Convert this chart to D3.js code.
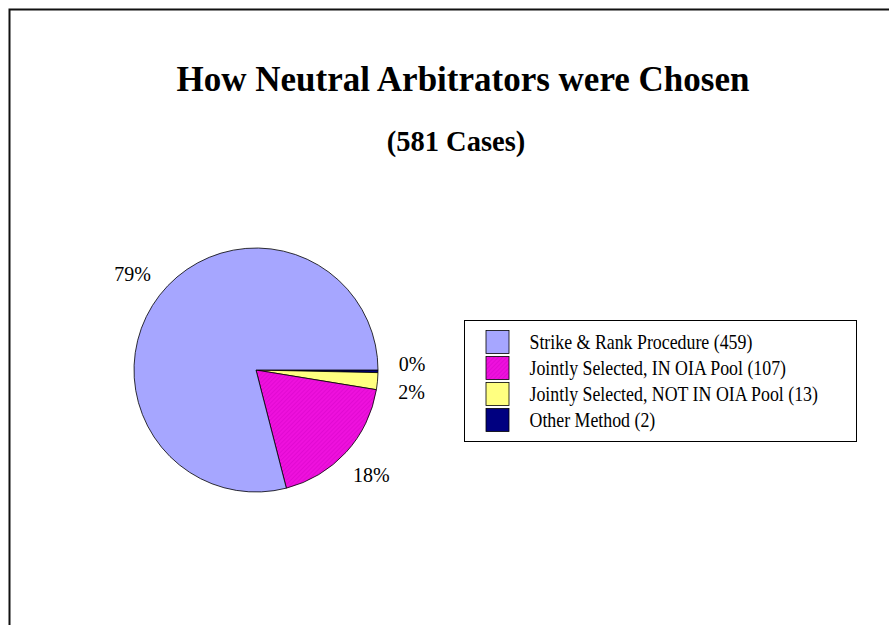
<!DOCTYPE html>
<html>
<head>
<meta charset="utf-8">
<script src="https://cdn.jsdelivr.net/npm/d3@7"></script>
<style>
  html, body { margin: 0; padding: 0; background: #fff; }
  svg { display: block; }
  text { font-family: "Liberation Serif", "Times New Roman", serif; fill: #000; }
</style>
</head>
<body>
<svg id="chart" width="889" height="625"></svg>
<script>
// ---- data ----
const categories = [
  "Strike & Rank Procedure",
  "Jointly Selected, IN OIA Pool",
  "Jointly Selected, NOT IN OIA Pool",
  "Other Method"
];
const counts = [459, 107, 13, 2];
const colors = ["#A6A6FF", "#EE11DD", "#FFFF80", "#000080"];
const titleText = "How Neutral Arbitrators were Chosen";
const subtitleText = "(581 Cases)";

const total = d3.sum(counts);
const data = categories.map((c, i) => ({ name: c, value: counts[i], color: colors[i], idx: i }));

const svg = d3.select("#chart");

// hatch pattern for magenta slice
const defs = svg.append("defs");
const pat = defs.append("pattern")
  .attr("id", "hatch")
  .attr("patternUnits", "userSpaceOnUse")
  .attr("width", 3).attr("height", 3)
  .attr("patternTransform", "rotate(45)");
pat.append("rect").attr("width", 3).attr("height", 3).attr("fill", "#EE11DD");
pat.append("line").attr("x1", 0).attr("y1", 0).attr("x2", 0).attr("y2", 3)
  .attr("stroke", "#D400C8").attr("stroke-width", 1);

// frame
svg.append("path")
  .attr("d", "M9.5,625 L9.5,9.5 L889,9.5")
  .attr("fill", "none").attr("stroke", "#111").attr("stroke-width", 2);

// titles
svg.append("text")
  .attr("x", 463).attr("y", 91)
  .attr("text-anchor", "middle")
  .style("font-size", "35px").style("font-weight", "bold")
  .text(titleText);
svg.append("text")
  .attr("x", 456).attr("y", 151)
  .attr("text-anchor", "middle")
  .style("font-size", "28.5px").style("font-weight", "bold")
  .text(subtitleText);

// pie
const cx = 256, cy = 370, r = 122;
const pieOrder = data.slice().reverse(); // clockwise from 3 o'clock: Other, NOT IN, IN, Strike
const pie = d3.pie().sort(null).value(d => d.value)
  .startAngle(Math.PI / 2).endAngle(Math.PI / 2 + 2 * Math.PI);
const arcs = pie(pieOrder);
const arc = d3.arc().innerRadius(0).outerRadius(r);

const g = svg.append("g").attr("transform", `translate(${cx},${cy})`);
g.selectAll("path.slice").data(arcs).enter().append("path")
  .attr("class", "slice")
  .attr("d", arc)
  .attr("fill", d => d.data.idx === 1 ? "url(#hatch)" : d.data.color)
  .attr("stroke", "#000").attr("stroke-width", 0.8);

// labels: positioned on an outer arc, with simple overlap spreading
const labelArc = d3.arc().innerRadius(r * 1.28).outerRadius(r * 1.28);
const labels = arcs.map(d => {
  const [x, y] = labelArc.centroid(d);
  return { x, y, text: d3.format(".0%")(d.data.value / total) };
});
for (let i = 1; i < labels.length; i++) {
  const p = labels[i - 1], q = labels[i];
  if (Math.abs(p.x - q.x) < 40 && Math.abs(p.y - q.y) < 24) {
    const m = (p.y + q.y) / 2;
    p.y = m - 14; q.y = m + 14;
  }
}
g.selectAll("text.lbl").data(labels).enter().append("text")
  .attr("class", "lbl")
  .attr("x", d => d.x).attr("y", d => d.y)
  .attr("text-anchor", "middle")
  .attr("dominant-baseline", "central")
  .style("font-size", "20px")
  .text(d => d.text);

// legend
const lg = svg.append("g").attr("transform", "translate(464.5,320.5)");
lg.append("rect").attr("width", 392).attr("height", 121)
  .attr("fill", "#fff").attr("stroke", "#000").attr("stroke-width", 1);
const rowH = 26;
const rows = lg.selectAll("g.row").data(data).enter().append("g")
  .attr("transform", (d, i) => `translate(0,${10 + i * rowH})`);
rows.append("rect")
  .attr("x", 21.5).attr("y", 0)
  .attr("width", 23).attr("height", 23)
  .attr("fill", d => d.idx === 1 ? "url(#hatch)" : d.color)
  .attr("stroke", "#000").attr("stroke-width", 0.8);
rows.append("text")
  .attr("transform", "translate(65,18.5) scale(0.85,1)")
  .style("font-size", "21px")
  .text(d => `${d.name} (${d.value})`);
</script>
</body>
</html>
